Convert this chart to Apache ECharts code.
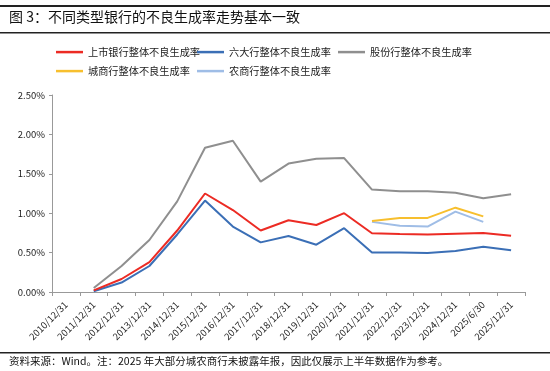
<!DOCTYPE html>
<html>
<head>
<meta charset="utf-8">
<script src="https://cdn.jsdelivr.net/npm/echarts@6/dist/echarts.min.js"></script>
<style>
html,body{margin:0;padding:0;background:#fff;}
#c{width:550px;height:371px;}
</style>
</head>
<body>
<div id="c"></div>
<script>
const categories = ['2010/12/31','2011/12/31','2012/12/31','2013/12/31','2014/12/31','2015/12/31','2016/12/31','2017/12/31','2018/12/31','2019/12/31','2020/12/31','2021/12/31','2022/12/31','2023/12/31','2024/12/31','2025/6/30','2025/12/31'];
const listedBanks = [null,0.02,0.165,0.38,0.78,1.25,1.04,0.78,0.91,0.85,1.00,0.745,0.736,0.73,0.74,0.75,0.715];
const bigSix = [null,0.01,0.12,0.33,0.73,1.16,0.83,0.63,0.71,0.60,0.81,0.50,0.50,0.495,0.52,0.575,0.53];
const jointStock = [null,0.05,0.33,0.66,1.15,1.83,1.92,1.40,1.63,1.69,1.70,1.30,1.28,1.28,1.26,1.19,1.24];
const cityBanks = [null,null,null,null,null,null,null,null,null,null,null,0.90,0.94,0.94,1.07,0.96,null];
const ruralBanks = [null,null,null,null,null,null,null,null,null,null,null,0.89,0.84,0.83,1.02,0.89,null];
const seriesNames = ['上市银行整体不良生成率','六大行整体不良生成率','股份行整体不良生成率','城商行整体不良生成率','农商行整体不良生成率'];
const yTicks = [0,0.5,1.0,1.5,2.0,2.5];

const colors = ['#ec2b24','#3b6fb6','#8f8f8f','#f7bf2e','#9fbde6'];
const dataSets = [listedBanks,bigSix,jointStock,cityBanks,ruralBanks];
const font = '"Noto Sans CJK SC", sans-serif';

const chart = echarts.init(document.getElementById('c'));
const legendPos = [[56,47],[197,47],[338,47],[56,66],[197,66]];
const legends = seriesNames.map((n,i)=>({
  data:[n], left:legendPos[i][0], top:legendPos[i][1],
  icon:'rect', itemWidth:27, itemHeight:2.5, itemGap:5,
  textStyle:{fontSize:10.2, color:'#222', fontFamily:font}, padding:0
}));

chart.setOption({
  animation:false,
  backgroundColor:'#fff',
  title:{text:'图 3：不同类型银行的不良生成率走势基本一致', left:9, top:10, padding:0,
    textStyle:{fontSize:14, fontWeight:'normal', color:'#111', fontFamily:font}},
  graphic:[
    {type:'rect', shape:{x:0,y:5,width:550,height:2}, style:{fill:'#222'}},
    {type:'rect', shape:{x:0,y:32,width:550,height:1.5}, style:{fill:'#222'}},
    {type:'rect', shape:{x:0,y:352,width:550,height:1.5}, style:{fill:'#222'}},
    {type:'text', left:9, top:356, style:{text:'资料来源：Wind。注：2025 年大部分城农商行未披露年报，因此仅展示上半年数据作为参考。', fontSize:10.5, fill:'#111', fontFamily:font}}
  ],
  legend:legends,
  grid:{left:52, right:25, top:95, bottom:79},
  xAxis:{type:'category', data:categories, boundaryGap:true,
    axisLine:{lineStyle:{color:'#999', width:1}},
    axisTick:{show:true, interval:0, length:4, lineStyle:{color:'#999'}},
    axisLabel:{interval:0, rotate:45, fontSize:9.5, color:'#222', fontFamily:font, margin:11}},
  yAxis:{type:'value', min:yTicks[0], max:yTicks[yTicks.length-1], interval:0.5,
    splitLine:{show:false},
    axisLine:{show:true, lineStyle:{color:'#999'}},
    axisTick:{show:true, length:3, lineStyle:{color:'#999'}},
    axisLabel:{fontSize:9.5, color:'#222', fontFamily:font, margin:7, formatter:v=>v.toFixed(2)+'%'}},
  series:seriesNames.map((n,i)=>({
    name:n, type:'line', data:dataSets[i], symbol:'none', showSymbol:false,
    connectNulls:false, lineStyle:{width:2, color:colors[i]}, itemStyle:{color:colors[i]}, z:10-i
  }))
});
</script>
</body>
</html>
